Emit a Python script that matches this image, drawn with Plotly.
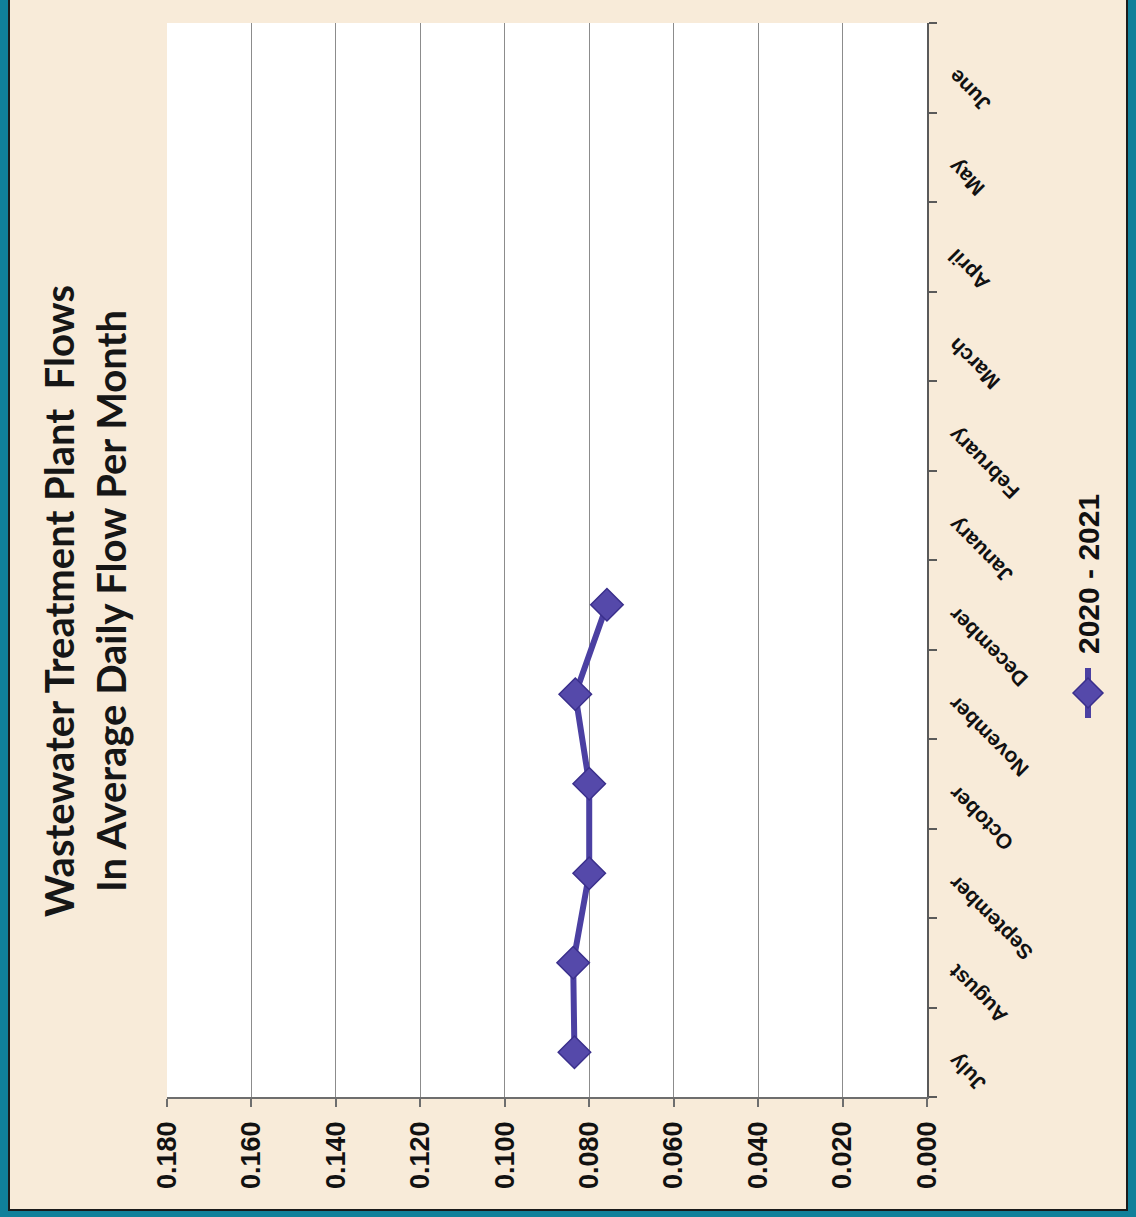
"""
Wastewater treatment plant flows, average daily flow per month (scanned chart, turned on its side).
"""

import plotly.graph_objects as go


MONTHS = ["July", "August", "September", "October", "November", "December",
          "January", "February", "March", "April", "May", "June"]
FLOW_2020_2021 = [0.0835, 0.0838, 0.0800, 0.0800, 0.0833, 0.0758]
SERIES_NAME = "2020 - 2021"
TITLE_LINES = ["Wastewater Treatment Plant\u00a0 Flows", "In Average Daily Flow Per Month"]
VALUE_MIN = 0.0
VALUE_MAX = 0.18
VALUE_STEP = 0.02

W, H = 1136, 1217
MARGIN = dict(l=167, r=209, t=23, b=120, pad=0)

LINE_COLOR = "#4b40a2"
FILL_COLOR = "#5549aa"
EDGE_COLOR = "#3a2f8c"
TEAL = "#10809a"
PAPER = "#f8ebd9"


def px_x(px):
    """pixel column -> paper x"""
    return (px - MARGIN["l"]) / (W - MARGIN["l"] - MARGIN["r"])


def px_y(py):
    """pixel row -> paper y"""
    return (H - MARGIN["b"] - py) / (H - MARGIN["t"] - MARGIN["b"])


def main():
    """main program"""
    fig = go.Figure()

    fig.add_trace(go.Scatter(
        x=FLOW_2020_2021,
        y=MONTHS[:len(FLOW_2020_2021)],
        name=SERIES_NAME,
        mode="lines+markers",
        line=dict(color=LINE_COLOR, width=6),
        marker=dict(symbol="diamond", size=25, color=FILL_COLOR,
                    line=dict(color=EDGE_COLOR, width=1.5)),
        showlegend=False))

    fig.update_layout(
        width=W, height=H,
        margin=MARGIN,
        paper_bgcolor=PAPER,
        plot_bgcolor="white",
        font=dict(family="Liberation Sans, Arial", color="#111111"),
        xaxis=dict(
            range=[VALUE_MAX, VALUE_MIN],
            tick0=VALUE_MIN, dtick=VALUE_STEP,
            tickformat=".3f",
            tickangle=-90,
            tickfont=dict(size=27, family="Liberation Sans, Arial", weight="bold"),
            showgrid=True, gridcolor="#8c8c8c", gridwidth=1,
            zeroline=False,
            showline=True, linecolor="#6e6e6e", linewidth=1.5,
            ticks="outside", ticklen=8, tickcolor="#6e6e6e", tickwidth=1.5,
            ticklabelstandoff=4,
        ),
        yaxis=dict(
            type="category",
            categoryorder="array", categoryarray=MONTHS,
            range=[-0.5, len(MONTHS) - 0.5],
            side="right",
            showgrid=False, zeroline=False,
            showline=True, linecolor="#5a5a5a", linewidth=1.5,
            ticks="outside", tickson="boundaries", ticklen=8,
            tickcolor="#5a5a5a", tickwidth=1.5,
            showticklabels=False,
        ),
    )

    # month labels, turned like the rest of the scan
    for month in MONTHS:
        fig.add_annotation(
            x=1, xref="paper", y=month, yref="y",
            text=month, textangle=-135, showarrow=False,
            xanchor="left", yanchor="top", xshift=14, yshift=5,
            font=dict(size=21, family="Liberation Sans, Arial", weight="bold", color="#111111"))

    # title, on its side
    fig.add_annotation(
        x=px_x(85), xref="paper", y=px_y(601), yref="paper",
        text="<br>".join(TITLE_LINES), textangle=-90, showarrow=False,
        xanchor="center", yanchor="middle",
        font=dict(size=40, family="Lato, Noto Sans", weight="bold", color="#161616"))

    # legend, on its side
    fig.add_annotation(
        x=px_x(1088), xref="paper", y=px_y(574), yref="paper",
        text=SERIES_NAME, textangle=-90, showarrow=False,
        xanchor="center", yanchor="middle",
        font=dict(size=30, family="Liberation Sans, Arial", weight="bold", color="#111111"))
    fig.add_shape(type="line", xref="paper", yref="paper",
                  x0=px_x(1088), x1=px_x(1088), y0=px_y(668), y1=px_y(718),
                  line=dict(color=LINE_COLOR, width=6))
    cx, cy = px_x(1088), px_y(693)
    dx, dy = 15 / (W - MARGIN["l"] - MARGIN["r"]), 15 / (H - MARGIN["t"] - MARGIN["b"])
    fig.add_shape(type="path", xref="paper", yref="paper",
                  path=f"M {cx - dx} {cy} L {cx} {cy + dy} L {cx + dx} {cy} L {cx} {cy - dy} Z",
                  fillcolor=FILL_COLOR, line=dict(color=EDGE_COLOR, width=1.5))

    # teal frame of the scanned page (left, right, bottom)
    frame = [(0, 0, 9, H), (1128, 0, W, H), (0, 1211, W, H)]
    for x0, y0, x1, y1 in frame:
        fig.add_shape(type="rect", xref="paper", yref="paper", layer="below",
                      x0=px_x(x0), x1=px_x(x1), y0=px_y(y1), y1=px_y(y0),
                      fillcolor=TEAL, line=dict(width=0))
    for x0, y0, x1, y1 in [(9, 0, 9, 1211), (1127, 0, 1127, 1211), (9, 1210, 1127, 1210)]:
        fig.add_shape(type="line", xref="paper", yref="paper",
                      x0=px_x(x0), x1=px_x(x1), y0=px_y(y0), y1=px_y(y1),
                      line=dict(color="#1b1b1b", width=2))

    # drop the page margin so the figure fills the window
    fig.write_html(
        "out.html",
        config={"displayModeBar": False},
        post_script="document.body.style.margin='0';document.body.style.overflow='hidden';")


if __name__ == "__main__":
    main()
